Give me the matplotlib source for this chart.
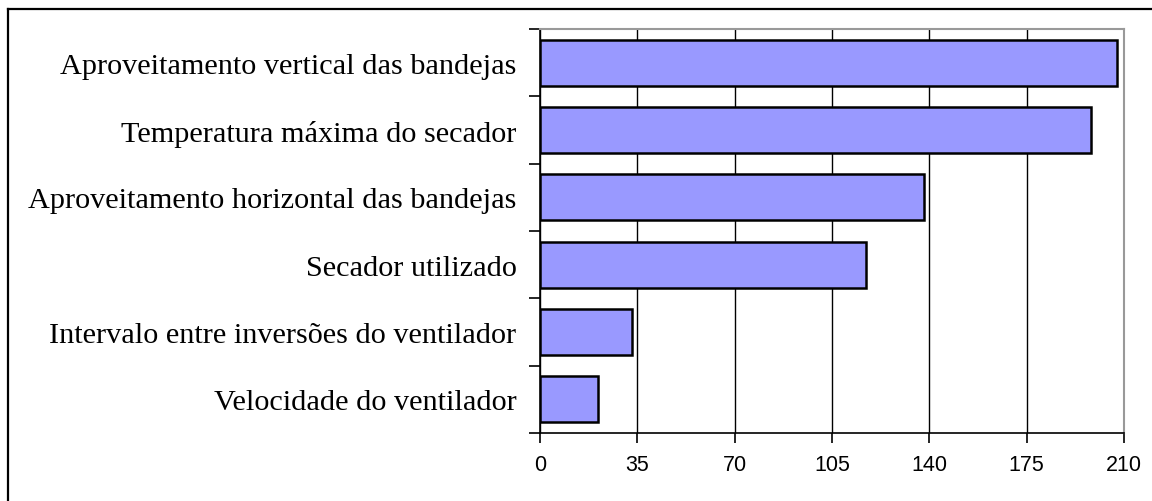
import matplotlib
matplotlib.use("Agg")
import matplotlib.pyplot as plt
from matplotlib.lines import Line2D

# data (top to bottom as shown)
categories = [
    "Aproveitamento vertical das bandejas",
    "Temperatura máxima do secador",
    "Aproveitamento horizontal das bandejas",
    "Secador utilizado",
    "Intervalo entre inversões do ventilador",
    "Velocidade do ventilador",
]
values = [207.4, 198.0, 138.0, 117.1, 33.1, 20.9]
xticks = [0, 35, 70, 105, 140, 175, 210]

W, H = 1152, 502
fig = plt.figure(figsize=(W / 100, H / 100), dpi=100)
ax = fig.add_axes([540 / W, 1 - 434 / H, (1124 - 540) / W, (434 - 30) / H])

n = len(categories)
ypos = list(range(n - 1, -1, -1))
ax.barh(ypos, values, height=0.68, color="#9999ff", edgecolor="black",
        linewidth=1.8, zorder=3)

ax.set_xlim(0, 210)
ax.set_ylim(-0.5, n - 0.5)
ax.set_xticks(xticks)
ax.set_xticklabels([str(t) for t in xticks], fontfamily="Liberation Sans", fontsize=15.5)
ax.grid(axis="x", color="black", linewidth=1.0, zorder=0)

# category ticks sit on the boundaries, labels in the middle
ax.set_yticks([i - 0.5 for i in range(n + 1)])
ax.set_yticklabels([])
ax.set_yticks(ypos, minor=True)
ax.set_yticklabels(categories, minor=True, fontfamily="Liberation Serif", fontsize=21.8)
ax.tick_params(axis="y", which="minor", length=0, pad=17)
ax.tick_params(axis="y", which="major", length=8, width=1.2, direction="out")
ax.tick_params(axis="x", length=7, width=1.2, direction="out", pad=8)

for side in ("top", "right"):
    ax.spines[side].set_color("#999999")
    ax.spines[side].set_linewidth(1.5)
for side in ("left", "bottom"):
    ax.spines[side].set_color("black")
    ax.spines[side].set_linewidth(1.2)

# outer chart frame (only top and left edges fall inside the image)
fig.add_artist(Line2D([8 / W, 8 / W], [0, 1 - 10 / H], color="black", linewidth=1.6))
fig.add_artist(Line2D([8 / W, 1], [1 - 10 / H, 1 - 10 / H], color="black", linewidth=1.6))

fig.savefig("out.png", dpi=100)
